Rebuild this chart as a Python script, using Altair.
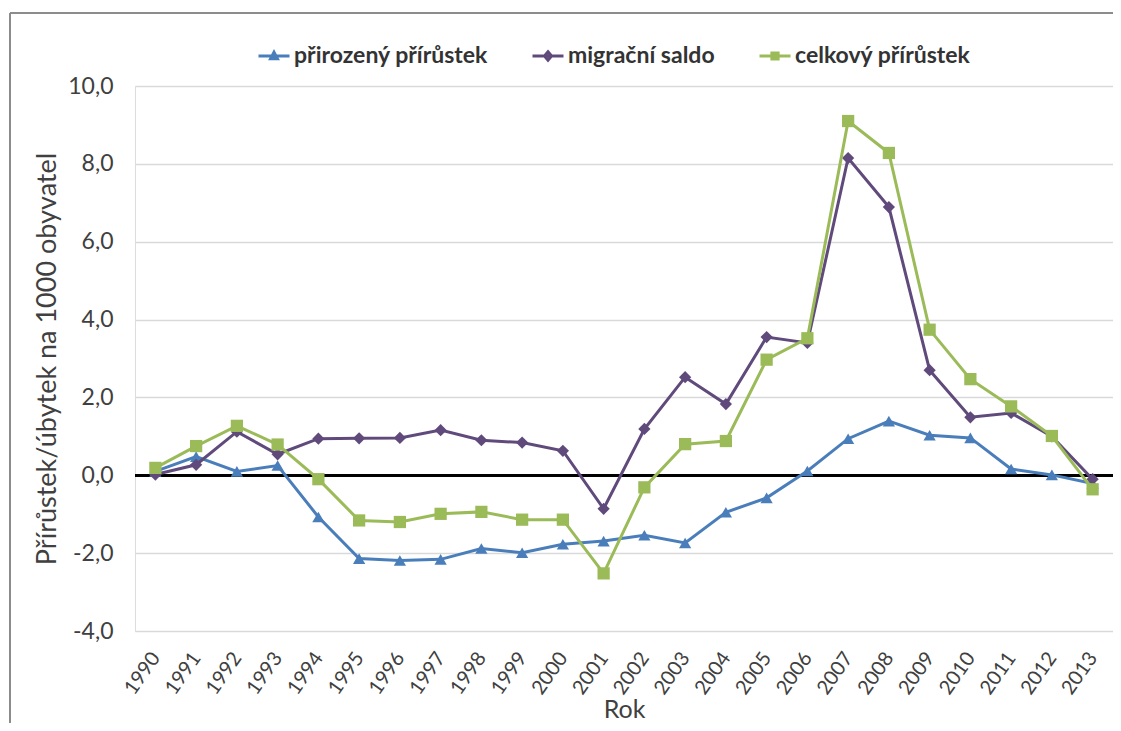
import altair as alt
import pandas as pd

years = [str(y) for y in range(1990, 2014)]
series_names = ["přirozený přírůstek", "migrační saldo", "celkový přírůstek"]
prirozeny = [0.10, 0.48, 0.10, 0.25, -1.07, -2.14, -2.19, -2.16, -1.88, -1.99, -1.77, -1.69,
             -1.54, -1.74, -0.95, -0.58, 0.11, 0.94, 1.39, 1.03, 0.96, 0.16, 0.01, -0.21]
migracni = [0.02, 0.27, 1.12, 0.54, 0.94, 0.95, 0.96, 1.16, 0.90, 0.84, 0.63, -0.86,
            1.19, 2.52, 1.83, 3.55, 3.40, 8.15, 6.89, 2.70, 1.49, 1.60, 1.00, -0.10]
celkovy = [0.19, 0.75, 1.27, 0.79, -0.10, -1.16, -1.20, -0.99, -0.94, -1.14, -1.14, -2.52,
           -0.31, 0.80, 0.88, 2.97, 3.52, 9.10, 8.28, 3.74, 2.47, 1.77, 1.01, -0.36]
colors = ["#4A7EBB", "#5F4A7B", "#9BBB59"]
marker_shapes = ["triangle-up", "diamond", "square"]
y_ticks = [-4, -2, 0, 2, 4, 6, 8, 10]

rows = []
for name, vals in zip(series_names, [prirozeny, migracni, celkovy]):
    for yr, v in zip(years, vals):
        rows.append({"rok": yr, "hodnota": v, "rada": name})
df = pd.DataFrame(rows)

FONT = "Lato"
TXT = "#404040"

# legend symbols: a short line with the marker drawn by strokes only
legend_paths = [
    "M-1,0H1M-0.22,0.17L0,-0.24L0.22,0.17ZM-0.1,0.08H0.1",
    "M-1,0H1M0,-0.27L0.23,0L0,0.27L-0.23,0Z",
    "M-1,0H1M-0.2,-0.2H0.2V0.2H-0.2Z",
]

leg = alt.Legend(
    title=None,
    orient="none",
    direction="horizontal",
    columns=3,
    legendX=122,
    legendY=-47,
    columnPadding=38,
    symbolSize=961,
    symbolStrokeWidth=3,
    symbolOpacity=1,
    labelFont=FONT,
    labelFontSize=23,
    labelFontWeight="bold",
    labelColor="#333333",
    labelOffset=3,
    labelLimit=400,
)

x_enc = alt.X(
    "rok:O",
    sort=years,
    title="Rok",
    axis=alt.Axis(
        labelAngle=-55,
        labelAlign="right",
        labelBaseline="middle",
        labelPadding=23,
        labelFont=FONT,
        labelFontSize=20,
        labelColor=TXT,
        ticks=False,
        domain=False,
        titleFont=FONT,
        titleFontSize=25,
        titleFontWeight="normal",
        titleColor=TXT,
        titlePadding=0,
    ),
)
y_enc = alt.Y(
    "hodnota:Q",
    scale=alt.Scale(domain=[-4, 10], nice=False, zero=False),
    title="Přírůstek/úbytek na 1000 obyvatel",
    axis=alt.Axis(
        values=y_ticks,
        labelExpr="replace(replace(format(datum.value, '.1f'), '.', ','), '\u2212', '-')",
        labelFont=FONT,
        labelFontSize=23,
        labelColor=TXT,
        labelPadding=22,
        ticks=False,
        domain=False,
        grid=True,
        gridColor="#d9d9d9",
        gridWidth=1.5,
        titleFont=FONT,
        titleFontSize=27,
        titleFontWeight="normal",
        titleColor=TXT,
        titlePadding=6,
    ),
)

base = alt.Chart(df)

# legend-only layer (draws no marks, only provides the legend)
legend_layer = base.transform_filter("false").mark_point(filled=False, opacity=1, strokeWidth=3).encode(
    x=x_enc,
    y=y_enc,
    color=alt.Color("rada:N", scale=alt.Scale(domain=series_names, range=colors), legend=leg),
    shape=alt.Shape("rada:N", scale=alt.Scale(domain=series_names, range=legend_paths), legend=leg),
)

zero_rule = base.mark_rule(color="black", strokeWidth=2.2).encode(y=alt.datum(0))

series_layers = []
for name, col, shp in zip(series_names, colors, marker_shapes):
    sub = base.transform_filter(alt.datum.rada == name)
    series_layers.append(
        sub.mark_line(strokeWidth=3, color=col).encode(x=x_enc, y=y_enc, order=alt.Order("rok:O"))
    )
    series_layers.append(
        sub.mark_point(filled=True, opacity=1, size=150, shape=shp, color=col).encode(x=x_enc, y=y_enc)
    )

frame_left = alt.Chart(df).mark_rule(color="#8c8c8c", strokeWidth=1.5, clip=False).encode(
    x=alt.value(-125), y=alt.value(-73), y2=alt.value(660))
frame_top = alt.Chart(df).mark_rule(color="#8c8c8c", strokeWidth=1.5, clip=False).encode(
    x=alt.value(-125), x2=alt.value(1000), y=alt.value(-73))

chart = alt.layer(legend_layer, zero_rule, *series_layers, frame_left, frame_top).properties(
    width=978,
    height=545,
    autosize=alt.AutoSizeParams(type="none"),
    padding={"left": 127, "top": 78, "right": 0, "bottom": 92},
).configure_view(stroke="#8c8c8c", strokeWidth=1.5).configure(background="white")

chart.save("out.html", embed_options={"renderer": "svg", "actions": False})
